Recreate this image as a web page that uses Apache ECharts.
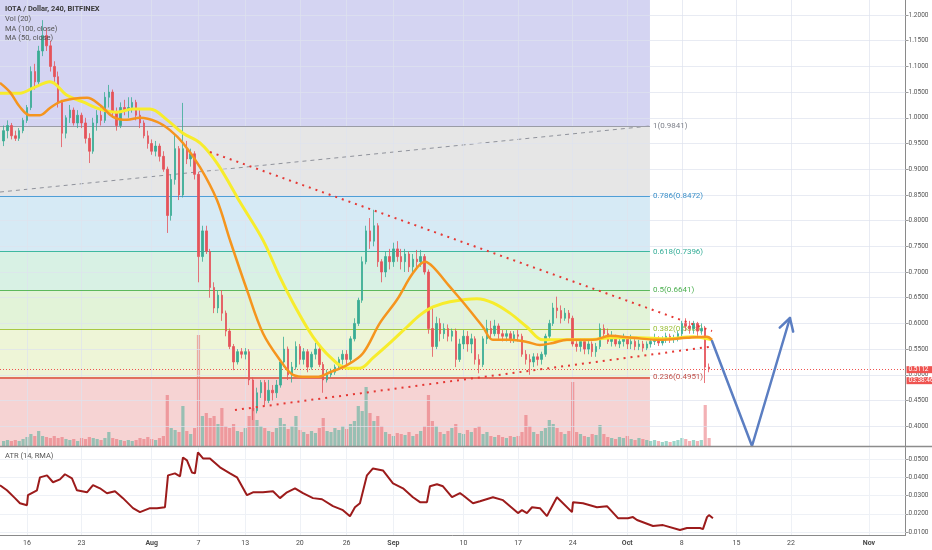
<!DOCTYPE html>
<html><head><meta charset="utf-8">
<script src="https://cdn.jsdelivr.net/npm/echarts@6/dist/echarts.min.js"></script>
<style>html,body{margin:0;padding:0;background:#fff}#c{width:932px;height:550px}</style>
</head><body><div id="c"></div>
<script>
// ---- time axis (days since 1 Jul) ----
const tickDays   = [15,22,31,37,43,50,56,62,71,78,85,92,99,106,113,123];
const tickLabels = ['16','23','Aug','7','13','20','26','Sep','10','17','24','Oct','8','15','22','Nov'];
const priceTicks = [0.40,0.45,0.50,0.55,0.60,0.65,0.70,0.75,0.80,0.85,0.90,0.95,1.00,1.05,1.10,1.15,1.20];
const atrTicks   = [0.01,0.02,0.03,0.04,0.05];

// ---- candles (12h each), [open, close, low, high] ----
const candleStartDay = 12;
const candleStepDays = 0.5;
const ohlc = [
[0.955,0.975,0.945,0.985],[0.975,0.985,0.96,0.995],[0.985,0.965,0.958,0.99],[0.965,0.96,0.955,0.975],
[0.96,0.975,0.955,0.98],[0.975,0.995,0.97,1.0],[0.995,1.02,0.99,1.025],[1.02,1.09,1.015,1.10],
[1.09,1.07,1.055,1.105],[1.07,1.13,1.06,1.14],[1.13,1.16,1.12,1.19],[1.16,1.14,1.13,1.175],
[1.14,1.10,1.09,1.15],[1.10,1.08,1.07,1.11],[1.08,1.03,1.02,1.09],[1.03,0.97,0.943,1.035],
[0.97,1.0,0.96,1.005],[1.0,1.015,0.99,1.025],[1.015,0.99,0.985,1.02],[0.99,1.005,0.98,1.015],
[1.005,0.99,0.98,1.01],[0.99,0.96,0.95,1.0],[0.96,0.935,0.912,0.97],[0.935,0.99,0.93,1.0],
[0.99,1.005,0.975,1.015],[1.005,0.995,0.985,1.02],[0.995,1.04,0.99,1.05],[1.04,1.05,1.02,1.064],
[1.05,1.01,1.0,1.055],[1.01,0.985,0.975,1.02],[0.985,1.02,0.98,1.03],[1.02,1.015,1.005,1.035],
[1.015,1.02,1.0,1.04],[1.02,1.03,1.01,1.04],[1.03,1.005,0.995,1.035],[1.005,0.99,0.98,1.015],
[0.99,0.965,0.96,0.995],[0.965,0.95,0.94,0.975],[0.95,0.935,0.928,0.958],[0.935,0.945,0.925,0.955],
[0.945,0.925,0.915,0.95],[0.925,0.90,0.895,0.935],[0.90,0.81,0.776,0.905],[0.81,0.88,0.80,0.89],
[0.88,0.94,0.87,0.97],[0.94,0.85,0.84,0.945],[0.85,0.94,0.845,1.029],[0.94,0.92,0.91,0.955],
[0.92,0.93,0.905,0.94],[0.93,0.89,0.88,0.935],[0.89,0.73,0.68,0.895],[0.73,0.78,0.72,0.79],
[0.78,0.74,0.735,0.79],[0.74,0.67,0.65,0.745],[0.67,0.63,0.62,0.68],[0.63,0.655,0.62,0.665],
[0.655,0.62,0.605,0.665],[0.62,0.585,0.575,0.625],[0.585,0.555,0.55,0.59],[0.555,0.525,0.509,0.56],
[0.525,0.545,0.52,0.55],[0.545,0.54,0.532,0.552],[0.54,0.545,0.53,0.552],[0.545,0.49,0.48,0.55],
[0.49,0.43,0.412,0.495],[0.43,0.465,0.425,0.475],[0.465,0.485,0.455,0.49],[0.485,0.45,0.44,0.49],
[0.45,0.47,0.445,0.49],[0.47,0.465,0.45,0.48],[0.465,0.48,0.455,0.49],[0.48,0.525,0.475,0.53],
[0.525,0.55,0.515,0.574],[0.55,0.50,0.49,0.555],[0.50,0.515,0.485,0.525],[0.515,0.555,0.51,0.565],
[0.555,0.53,0.52,0.56],[0.53,0.545,0.52,0.552],[0.545,0.515,0.505,0.55],[0.515,0.54,0.51,0.545],
[0.54,0.55,0.53,0.562],[0.55,0.52,0.515,0.555],[0.52,0.49,0.465,0.525],[0.49,0.50,0.485,0.51],
[0.50,0.505,0.495,0.512],[0.505,0.515,0.5,0.52],[0.515,0.53,0.51,0.535],[0.53,0.54,0.52,0.548],
[0.54,0.53,0.52,0.548],[0.53,0.57,0.525,0.575],[0.57,0.60,0.565,0.61],[0.60,0.645,0.595,0.65],
[0.645,0.72,0.64,0.73],[0.72,0.78,0.715,0.79],[0.78,0.76,0.745,0.805],[0.76,0.79,0.75,0.821],
[0.79,0.72,0.71,0.795],[0.72,0.70,0.68,0.725],[0.70,0.73,0.69,0.74],[0.73,0.72,0.705,0.745],
[0.72,0.745,0.71,0.757],[0.745,0.73,0.72,0.76],[0.73,0.72,0.705,0.745],[0.72,0.735,0.70,0.745],
[0.735,0.71,0.70,0.74],[0.71,0.725,0.70,0.735],[0.725,0.72,0.705,0.743],[0.72,0.73,0.71,0.743],
[0.73,0.70,0.695,0.735],[0.70,0.59,0.58,0.705],[0.59,0.555,0.535,0.63],[0.555,0.60,0.55,0.613],
[0.60,0.58,0.565,0.61],[0.58,0.59,0.57,0.60],[0.59,0.575,0.565,0.598],[0.575,0.585,0.565,0.59],
[0.585,0.53,0.515,0.59],[0.53,0.56,0.525,0.57],[0.56,0.575,0.55,0.587],[0.575,0.56,0.545,0.585],
[0.56,0.57,0.542,0.58],[0.57,0.53,0.52,0.575],[0.53,0.52,0.503,0.54],[0.52,0.57,0.515,0.575],
[0.57,0.59,0.56,0.607],[0.59,0.58,0.57,0.605],[0.58,0.595,0.575,0.607],[0.595,0.58,0.57,0.60],
[0.58,0.575,0.565,0.587],[0.575,0.58,0.565,0.587],[0.58,0.57,0.562,0.585],[0.57,0.578,0.562,0.585],
[0.578,0.575,0.565,0.587],[0.575,0.54,0.535,0.58],[0.54,0.53,0.52,0.548],[0.53,0.525,0.50,0.54],
[0.525,0.535,0.515,0.542],[0.535,0.53,0.518,0.542],[0.53,0.54,0.52,0.545],[0.54,0.575,0.535,0.58],
[0.575,0.60,0.57,0.607],[0.60,0.63,0.595,0.64],[0.63,0.625,0.61,0.652],[0.625,0.61,0.60,0.635],
[0.61,0.62,0.605,0.63],[0.62,0.61,0.60,0.626],[0.61,0.56,0.555,0.615],[0.56,0.555,0.545,0.568],
[0.555,0.565,0.545,0.57],[0.565,0.55,0.54,0.57],[0.55,0.56,0.54,0.568],[0.56,0.545,0.535,0.565],
[0.545,0.555,0.535,0.562],[0.555,0.59,0.55,0.60],[0.59,0.58,0.57,0.598],[0.58,0.565,0.56,0.59],
[0.565,0.57,0.555,0.585],[0.57,0.56,0.555,0.578],[0.56,0.565,0.552,0.575],[0.565,0.57,0.555,0.58],
[0.57,0.56,0.55,0.575],[0.56,0.565,0.55,0.578],[0.565,0.555,0.548,0.57],[0.555,0.56,0.548,0.568],
[0.56,0.552,0.545,0.566],[0.552,0.56,0.548,0.565],[0.56,0.565,0.553,0.57],[0.565,0.57,0.558,0.58],
[0.57,0.562,0.556,0.575],[0.562,0.568,0.557,0.575],[0.568,0.575,0.562,0.582],[0.575,0.57,0.562,0.58],
[0.57,0.572,0.562,0.578],[0.572,0.58,0.565,0.585],[0.58,0.60,0.575,0.605],[0.60,0.595,0.585,0.61],
[0.595,0.59,0.58,0.605],[0.59,0.60,0.58,0.605],[0.60,0.585,0.575,0.603],[0.585,0.59,0.578,0.60],
[0.59,0.515,0.484,0.595],[0.515,0.5112,0.505,0.522]
];
const volume = [
5,6,5,6,5,7,9,12,10,15,10,9,8,10,8,9,7,6,7,5,8,7,9,8,7,6,8,14,8,7,6,5,6,5,6,8,7,9,7,6,8,10,
51,18,16,14,40,15,12,18,111,30,33,28,30,22,38,20,18,22,15,14,18,30,38,26,20,18,15,14,18,28,
22,17,20,30,16,14,12,15,13,18,28,15,14,18,16,20,17,22,25,40,35,59,33,25,30,20,14,12,10,13,
12,11,14,10,12,15,20,51,25,20,14,12,15,18,22,13,12,16,14,18,20,12,14,10,9,11,9,8,10,9,
10,14,31,20,14,12,15,18,26,22,18,14,12,15,64,14,12,10,9,12,11,21,12,9,8,7,9,8,10,7,
6,8,7,6,5,6,5,4,5,4,5,6,8,7,5,6,5,6,41,8
];

// ---- moving averages [day, price] ----
const ma100 = [[11.54,1.048],[14.10,1.048],[15.77,1.058],[17.95,1.070],[20.13,1.044],[22.18,1.031],[24.36,1.017],[26.54,1.011],[28.60,1.017],[30.78,1.017],[32.96,0.996],[35.01,0.970],[37.19,0.951],[39.37,0.912],[41.42,0.860],[42.32,0.836],[45.27,0.762],[47.45,0.690],[49.63,0.626],[51.69,0.574],[53.87,0.535],[56.05,0.513],[57.71,0.513],[59.38,0.533],[61.56,0.562],[63.74,0.593],[65.41,0.616],[67.08,0.632],[69.26,0.642],[72.72,0.648],[74.77,0.640],[76.95,0.620],[79.13,0.593],[81.19,0.568],[83.37,0.568],[86.83,0.568],[90.17,0.572],[93.63,0.572],[97.09,0.570],[100.43,0.574],[102.87,0.568]];
const ma50 = [[11.54,1.068],[12.82,1.050],[14.10,1.021],[15.38,1.005],[16.67,1.005],[17.95,1.019],[19.23,1.031],[20.90,1.037],[22.70,1.039],[24.36,1.025],[26.03,1.002],[27.83,0.996],[29.49,1.000],[31.68,0.992],[33.34,0.976],[35.01,0.951],[37.19,0.904],[39.37,0.840],[41.04,0.762],[43.22,0.665],[45.27,0.581],[47.45,0.529],[49.12,0.500],[50.92,0.496],[52.20,0.496],[53.87,0.505],[56.05,0.519],[58.10,0.542],[60.28,0.601],[62.46,0.646],[64.51,0.698],[66.05,0.720],[67.08,0.710],[69.26,0.671],[71.44,0.632],[73.49,0.593],[74.77,0.568],[76.95,0.568],[79.13,0.564],[80.80,0.558],[82.47,0.562],[84.27,0.568],[87.60,0.568],[89.78,0.576],[92.73,0.572],[96.20,0.568],[99.66,0.572],[102.22,0.574],[102.87,0.568]];

// ---- ATR (14, RMA) [day, value] ----
const atr = [[11.54,0.0357],[12.43,0.0329],[13.46,0.0286],[14.10,0.0258],[15.00,0.0247],[15.13,0.0302],[16.28,0.0329],[16.67,0.0400],[17.57,0.0411],[18.34,0.0373],[19.23,0.0389],[19.87,0.0417],[20.77,0.0395],[21.41,0.0329],[22.70,0.0318],[23.47,0.0357],[24.36,0.0340],[25.26,0.0313],[26.29,0.0324],[27.31,0.0286],[28.60,0.0231],[29.49,0.0209],[30.78,0.0231],[31.68,0.0231],[32.70,0.0236],[33.09,0.0411],[33.98,0.0422],[34.63,0.0406],[35.01,0.0509],[35.52,0.0493],[36.16,0.0427],[36.55,0.0422],[36.93,0.0537],[37.58,0.0504],[38.47,0.0504],[39.76,0.0455],[41.04,0.0422],[41.94,0.0400],[43.22,0.0302],[43.99,0.0318],[45.27,0.0318],[46.56,0.0324],[47.45,0.0286],[48.35,0.0318],[49.38,0.0340],[50.40,0.0313],[51.69,0.0286],[52.84,0.0280],[54.25,0.0242],[55.53,0.0220],[56.43,0.0187],[57.07,0.0236],[57.71,0.0258],[58.61,0.0411],[59.38,0.0449],[60.66,0.0438],[61.95,0.0367],[63.23,0.0340],[64.51,0.0291],[65.41,0.0264],[66.31,0.0264],[66.69,0.0351],[67.59,0.0362],[68.36,0.0351],[69.52,0.0291],[70.54,0.0313],[70.93,0.0302],[72.21,0.0258],[73.11,0.0269],[74.77,0.0291],[76.06,0.0275],[77.98,0.0204],[78.49,0.0220],[79.13,0.0204],[79.78,0.0236],[80.80,0.0231],[81.70,0.0187],[82.09,0.0220],[82.98,0.0291],[84.91,0.0209],[85.04,0.0264],[86.32,0.0258],[88.11,0.0236],[89.40,0.0242],[90.81,0.0176],[92.09,0.0176],[92.73,0.0182],[93.25,0.0166],[95.30,0.0133],[96.58,0.0138],[98.76,0.0111],[99.66,0.0122],[101.33,0.0122],[101.71,0.0116],[102.23,0.0182],[102.48,0.0193],[102.99,0.0176]];

// ---- Fibonacci retracement ----
const fibRatios = [1, 0.786, 0.618, 0.5, 0.382, 0.236];
const fibPrices = [0.9841, 0.8472, 0.7396, 0.6641, 0.5886, 0.4951];
const fibEndDay = 94.91;
const fibTrend = [[11.54,0.8556],[94.91,0.9841]];

// ---- drawings ----
const upperTrend = [[38.47,0.9335],[102.87,0.5852]];
const lowerTrend = [[41.68,0.4315],[102.87,0.5551]];
const projection = [[102.87,0.5658],[108.0,0.3615],[112.87,0.6105]];
const arrowHead  = [[111.56,0.5918],[112.87,0.6105],[113.28,0.584]];
const currentPrice = 0.5112;
const countdown = '03:38:46';

// ---- axis ranges ----
const xMin = 11.54, xMax = 127.69;
const pMin = 0.3615, pMax = 1.2292;
const aMin = 0.00837, aMax = 0.05638;

const UP = '#3aac94', DOWN = '#e5535a';
const UPV = 'rgba(58,172,148,0.5)', DOWNV = 'rgba(229,83,90,0.45)';
const GRIDC = 'rgba(222,227,238,0.7)';
const FONT = 'Roboto, "Liberation Sans", sans-serif';

const candleData = ohlc.map((c, i) => [candleStartDay + i * candleStepDays, c[0], c[1], c[2], c[3]]);
const volData = volume.map((v, i) => ({
  value: [candleStartDay + i * candleStepDays, v],
  itemStyle: { color: ohlc[i][1] >= ohlc[i][0] ? UPV : DOWNV }
}));

const zoneColors = ['#d4d4f2','#e6e6e6','#d6eaf5','#d8f1e4','#e2f3d8','#eef5d7','#f6d3d3'];
const zoneBounds = [pMax].concat(fibPrices, [pMin]);
const zones = zoneColors.map((col, i) => [
  { coord: [xMin, zoneBounds[i]], itemStyle: { color: col, opacity: 1 } },
  { coord: [fibEndDay, zoneBounds[i + 1]] }
]);
const fibLineColors = ['#9a9ca6','#4f9fd6','#3fb8a0','#5cb85c','#a8c843','#e0705e'];
const fibTextColors = ['#7c7f88','#3a8fc8','#35ad97','#4caf50','#9bbf38','#c0504a'];
const fibLines = fibPrices.map((p, i) => [
  { coord: [xMin, p], lineStyle: { color: fibLineColors[i], width: i === 5 ? 2 : 1, type: 'solid' },
    label: { show: true, position: 'end', distance: 3, formatter: fibRatios[i] + '(' + p.toFixed(4) + ')',
             color: fibTextColors[i], fontSize: 8, fontFamily: FONT } },
  { coord: [fibEndDay, p] }
]);

function xLabel(v) {
  let i = -1;
  for (let k = 0; k < tickDays.length; k++) if (Math.abs(tickDays[k] - v) < 1e-6) i = k;
  if (i < 0) return '';
  const t = tickLabels[i];
  return isNaN(+t) ? '{m|' + t + '}' : t;
}

const chart = echarts.init(document.getElementById('c'), null, { renderer: 'canvas' });
chart.setOption({
  animation: false,
  backgroundColor: '#ffffff',
  grid: [
    { left: 0, right: 26.5, top: 0, height: 446 },
    { left: 0, right: 26.5, top: 447.5, height: 87.5 }
  ],
  xAxis: [
    { gridIndex: 0, type: 'value', min: xMin, max: xMax, axisLine: { show: false }, axisTick: { show: false },
      axisLabel: { show: false }, splitLine: { show: false } },
    { gridIndex: 1, type: 'value', min: xMin, max: xMax,
      axisLine: { show: true, onZero: false, lineStyle: { color: '#8a8a8a', width: 1 } },
      axisTick: { show: false, customValues: tickDays },
      axisLabel: { customValues: tickDays, formatter: xLabel, fontSize: 7, color: '#4a4a4a', margin: 5, fontFamily: FONT,
                   rich: { m: { fontWeight: 'bold', fontSize: 7, color: '#4a4a4a', fontFamily: FONT } } },
      splitLine: { show: false } }
  ],
  yAxis: [
    { gridIndex: 0, type: 'value', position: 'right', min: pMin, max: pMax,
      axisLine: { show: true, lineStyle: { color: '#8a8a8a', width: 1 } },
      axisTick: { show: true, customValues: priceTicks, length: 3, lineStyle: { color: '#9a9a9a' } },
      axisLabel: { customValues: priceTicks, formatter: v => v.toFixed(4), fontSize: 6.5, color: '#555', margin: 3, fontFamily: FONT },
      splitLine: { show: false } },
    { gridIndex: 0, type: 'value', min: 0, max: 446, show: false, splitLine: { show: false } },
    { gridIndex: 1, type: 'value', position: 'right', min: aMin, max: aMax,
      axisLine: { show: true, lineStyle: { color: '#8a8a8a', width: 1 } },
      axisTick: { show: true, customValues: atrTicks, length: 3, lineStyle: { color: '#9a9a9a' } },
      axisLabel: { customValues: atrTicks, formatter: v => v.toFixed(4), fontSize: 6.5, color: '#555', margin: 3, fontFamily: FONT },
      splitLine: { show: false } }
  ],
  graphic: [
    { type: 'line', shape: { x1: 0, y1: 446.5, x2: 932, y2: 446.5 }, style: { stroke: '#8c8c8c', lineWidth: 1.5 }, z: 100 },
    { type: 'text', x: 5, y: 9, z: 100, style: { text: 'IOTA / Dollar, 240, BITFINEX', font: 'bold 7.5px ' + FONT, fill: '#3a3a3a', verticalAlign: 'middle' } },
    { type: 'text', x: 5, y: 19, z: 100, style: { text: 'Vol (20)', font: '7.5px ' + FONT, fill: '#555', verticalAlign: 'middle' } },
    { type: 'text', x: 5, y: 29, z: 100, style: { text: 'MA (100, close)', font: '7.5px ' + FONT, fill: '#555', verticalAlign: 'middle' } },
    { type: 'text', x: 5, y: 38, z: 100, style: { text: 'MA (50, close)', font: '7.5px ' + FONT, fill: '#555', verticalAlign: 'middle' } },
    { type: 'text', x: 5, y: 456, z: 100, style: { text: 'ATR (14, RMA)', font: '7.5px ' + FONT, fill: '#555', verticalAlign: 'middle' } }
  ],
  series: [
    { name: 'zones', type: 'line', xAxisIndex: 0, yAxisIndex: 0, data: [], z: 1, silent: true,
      markArea: { silent: true, data: zones } },
    { name: 'grid0', type: 'line', xAxisIndex: 0, yAxisIndex: 0, data: [], z: 2, silent: true,
      markLine: { silent: true, symbol: 'none', label: { show: false }, lineStyle: { color: GRIDC, width: 1, type: 'solid' },
        data: tickDays.map(d => ({ xAxis: d })).concat(priceTicks.map(p => ({ yAxis: p }))) } },
    { name: 'grid1', type: 'line', xAxisIndex: 1, yAxisIndex: 2, data: [], z: 2, silent: true,
      markLine: { silent: true, symbol: 'none', label: { show: false }, lineStyle: { color: '#eef1f6', width: 1, type: 'solid' },
        data: tickDays.map(d => ({ xAxis: d })).concat(atrTicks.map(p => ({ yAxis: p }))) } },
    { name: 'fib', type: 'line', xAxisIndex: 0, yAxisIndex: 0, data: [], z: 3, silent: true,
      markLine: { silent: true, symbol: 'none', data: fibLines } },
    { name: 'fibTrend', type: 'line', xAxisIndex: 0, yAxisIndex: 0, data: fibTrend, z: 3, showSymbol: false, silent: true,
      lineStyle: { color: '#8f929b', width: 1, type: [4, 4] } },
    { name: 'price', type: 'line', xAxisIndex: 0, yAxisIndex: 0, data: [], z: 4, silent: true,
      markLine: { silent: true, symbol: 'none', lineStyle: { color: '#ef5350', width: 1, type: [1, 2] },
        label: { show: true, position: 'end', distance: 1,
          formatter: '{h| }\n{a|' + currentPrice.toFixed(4) + '}\n{a|' + countdown + '}',
          rich: {
            h: { lineHeight: 11, fontSize: 6.5 },
            a: { backgroundColor: '#ef5350', color: '#fff', fontSize: 6.5, lineHeight: 11, width: 24, padding: [0, 1, 0, 2], fontFamily: FONT }
          } },
        data: [{ yAxis: currentPrice }] } },
    { name: 'Vol', type: 'bar', xAxisIndex: 0, yAxisIndex: 1, data: volData, barWidth: 3.2, z: 4, silent: true },
    { name: 'IOTA', type: 'candlestick', xAxisIndex: 0, yAxisIndex: 0, data: candleData, barWidth: 2, z: 5, silent: true,
      itemStyle: { color: UP, color0: DOWN, borderColor: UP, borderColor0: DOWN, borderWidth: 0.8 } },
    { name: 'MA100', type: 'line', xAxisIndex: 0, yAxisIndex: 0, data: ma100, z: 6, showSymbol: false, smooth: 0.35, silent: true,
      lineStyle: { color: '#f7ec2c', width: 3 } },
    { name: 'MA50', type: 'line', xAxisIndex: 0, yAxisIndex: 0, data: ma50, z: 7, showSymbol: false, smooth: 0.35, silent: true,
      lineStyle: { color: '#f5951e', width: 2.5 } },
    { name: 'upper', type: 'line', xAxisIndex: 0, yAxisIndex: 0, data: upperTrend, z: 8, showSymbol: false, silent: true,
      lineStyle: { color: '#e53935', width: 2, type: [2, 5] } },
    { name: 'lower', type: 'line', xAxisIndex: 0, yAxisIndex: 0, data: lowerTrend, z: 8, showSymbol: false, silent: true,
      lineStyle: { color: '#e53935', width: 2, type: [2, 5] } },
    { name: 'projection', type: 'line', xAxisIndex: 0, yAxisIndex: 0, data: projection, z: 9, showSymbol: false, silent: true,
      lineStyle: { color: '#5b7ec2', width: 2.5, cap: 'round', join: 'round' } },
    { name: 'arrowHead', type: 'line', xAxisIndex: 0, yAxisIndex: 0, data: arrowHead, z: 9, showSymbol: false, silent: true,
      lineStyle: { color: '#5b7ec2', width: 2.5, cap: 'round', join: 'round' } },
    { name: 'ATR', type: 'line', xAxisIndex: 1, yAxisIndex: 2, data: atr, z: 5, showSymbol: false, silent: true,
      lineStyle: { color: '#9c1b1b', width: 2 } }
  ]
});
</script></body></html>
